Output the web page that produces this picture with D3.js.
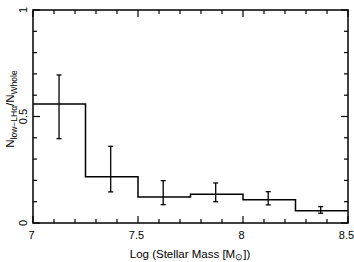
<!DOCTYPE html>
<html>
<head>
<meta charset="utf-8">
<script src="https://cdn.jsdelivr.net/npm/d3@7"></script>
<style>
  body { margin: 0; background: #fff; }
  #chart { width: 354px; height: 262px; }
  text { font-family: "Liberation Sans", Arial, sans-serif; fill: #000; }
</style>
</head>
<body>
<div id="chart"></div>
<script>
// bins (log stellar mass edges) and fraction values
const binEdges = [7.0, 7.25, 7.5, 7.75, 8.0, 8.25, 8.5];
const fraction = [0.559, 0.217, 0.122, 0.135, 0.109, 0.058];
const errX = [7.124, 7.37, 7.62, 7.87, 8.12, 8.37];
const errLow = [0.396, 0.146, 0.086, 0.100, 0.085, 0.046];
const errHigh = [0.695, 0.360, 0.199, 0.188, 0.147, 0.077];
const xTicks = [7, 7.5, 8, 8.5];
const yTicks = [0, 0.5, 1];

const width = 354, height = 262;
const margin = {top: 10, left: 33, right: 6, bottom: 39};

const svg = d3.select("#chart").append("svg")
    .attr("width", width)
    .attr("height", height);

const xScale = d3.scaleLinear().domain([7, 8.5]).range([margin.left, width - margin.right]);
const yScale = d3.scaleLinear().domain([0, 1]).range([height - margin.bottom, margin.top]);

const x0 = xScale.range()[0], x1 = xScale.range()[1];
const y0 = yScale.range()[0], y1 = yScale.range()[1];

//frame
svg.append("rect")
    .attr("x", x0).attr("y", y1)
    .attr("width", x1 - x0).attr("height", y0 - y1)
    .attr("fill", "none").attr("stroke", "#000").attr("stroke-width", 1.5);

//ticks (inward on all sides)
const xMinor = d3.range(0, 16).map(i => 7 + i * 0.1);
const yMinor = d3.range(0, 11).map(i => i * 0.1);
const isMajor = v => Math.abs(v * 2 - Math.round(v * 2)) < 1e-6;
const tickG = svg.append("g").attr("stroke", "#000").attr("stroke-width", 1.2);
xMinor.forEach(v => {
    const len = isMajor(v) ? 7 : 4;
    tickG.append("line").attr("x1", xScale(v)).attr("x2", xScale(v)).attr("y1", y0).attr("y2", y0 - len);
    tickG.append("line").attr("x1", xScale(v)).attr("x2", xScale(v)).attr("y1", y1).attr("y2", y1 + len);
});
yMinor.forEach(v => {
    const len = isMajor(v) ? 7 : 4;
    tickG.append("line").attr("y1", yScale(v)).attr("y2", yScale(v)).attr("x1", x0).attr("x2", x0 + len);
    tickG.append("line").attr("y1", yScale(v)).attr("y2", yScale(v)).attr("x1", x1).attr("x2", x1 - len);
});

//tick labels
svg.selectAll(".xlab").data(xTicks).enter().append("text")
    .attr("x", d => xScale(d) - 1.5)
    .attr("y", y0 + 15.5)
    .attr("text-anchor", "middle")
    .attr("font-size", 11)
    .text(d => d);
svg.selectAll(".ylab").data(yTicks).enter().append("text")
    .attr("transform", d => `translate(${x0 - 6},${yScale(d)}) rotate(-90)`)
    .attr("text-anchor", "middle")
    .attr("font-size", 11)
    .text(d => d);

//step histogram
const stepPts = [];
fraction.forEach((f, i) => {
    stepPts.push([binEdges[i], f]);
    stepPts.push([binEdges[i + 1], f]);
});
svg.append("path")
    .attr("d", d3.line().x(d => xScale(d[0])).y(d => yScale(d[1]))(stepPts))
    .attr("fill", "none").attr("stroke", "#000").attr("stroke-width", 1.5);

//error bars
const eb = svg.append("g").attr("stroke", "#000").attr("stroke-width", 1.3);
errX.forEach((xv, i) => {
    const cx = xScale(xv);
    eb.append("line").attr("x1", cx).attr("x2", cx).attr("y1", yScale(errLow[i])).attr("y2", yScale(errHigh[i]));
    [errLow[i], errHigh[i]].forEach(v => {
        eb.append("line").attr("x1", cx - 2.5).attr("x2", cx + 2.5).attr("y1", yScale(v)).attr("y2", yScale(v));
    });
});

//axis labels
const xl = svg.append("text")
    .attr("x", (x0 + x1) / 2 - 0.5)
    .attr("y", 257.5)
    .attr("text-anchor", "middle")
    .attr("font-size", 11.5);
xl.append("tspan").text("Log (Stellar Mass [M");
xl.append("tspan").attr("font-size", 8.5).attr("dy", 2.5).text("\u2299");
xl.append("tspan").attr("dy", -2.5).text("])");

const yl = svg.append("text")
    .attr("transform", `translate(14,109) rotate(-90)`)
    .attr("text-anchor", "middle")
    .attr("font-size", 11.5);
yl.append("tspan").text("N");
yl.append("tspan").attr("font-size", 8.5).attr("dy", 2.5).text("low\u2212LH\u03b1");
yl.append("tspan").attr("dy", -2.5).text("/N");
yl.append("tspan").attr("font-size", 8.5).attr("dy", 2.5).text("Whole");
</script>
</body>
</html>
